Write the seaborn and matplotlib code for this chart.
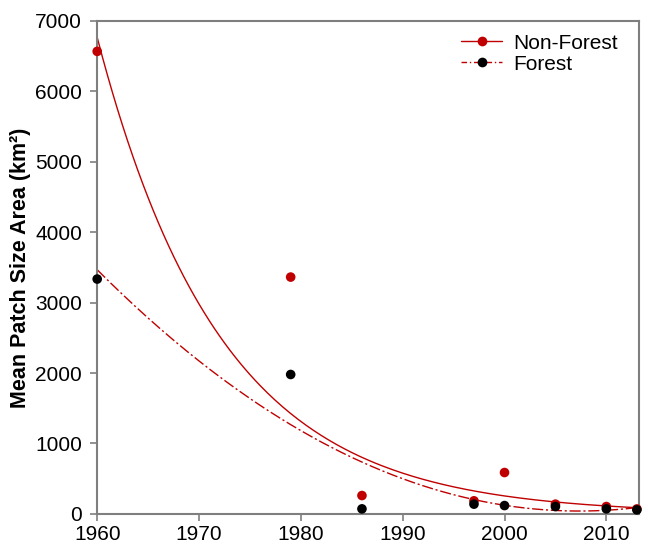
#!/usr/bin/env python3

import numpy as np
import matplotlib
matplotlib.use('Agg')
import matplotlib.pyplot as plt
from matplotlib.lines import Line2D
import pandas as pd
import seaborn as sns

# observed mean patch size (km2)
years = [1960, 1979, 1986, 1997, 2000, 2005, 2010, 2013]
non_forest = [6567, 3362, 260, 185, 587, 138, 104, 70]
forest = [3334, 1979, 71, 138, 118, 104, 71, 57]

# fitted trend lines, coefficients
nf_fit = [6765, 0.082]            # a * exp(-k * (year - 1960))
f_fit = [1.53, -144.8, 3466]      # quadratic in (year - 1960)

red = '#C00000'
grey = '#7f7f7f'

sns.set_style('white')
plt.rcParams['font.family'] = ['Liberation Sans', 'DejaVu Sans']
plt.rcParams['text.color'] = 'black'
plt.rcParams['xtick.color'] = grey
plt.rcParams['ytick.color'] = grey
plt.rcParams['xtick.labelcolor'] = 'black'
plt.rcParams['ytick.labelcolor'] = 'black'
plt.rcParams['xtick.bottom'] = True
plt.rcParams['ytick.left'] = True

fig = plt.figure(figsize=(6.48, 5.49), dpi=100)
ax = fig.add_axes([0.150, 0.064, 0.836, 0.898])

yr = np.arange(1960, 2013.3, 0.25)
t = yr - 1960
fits = pd.DataFrame({'year': yr,
                     'nf': nf_fit[0] * np.exp(-nf_fit[1] * t),
                     'f': np.polyval(f_fit, t)})

sns.lineplot(data=fits, x='year', y='nf', ax=ax, color=red, lw=1.0)
sns.lineplot(data=fits, x='year', y='f', ax=ax, color=red, lw=1.0,
             linestyle=(0, (8, 2, 1.5, 2)))

obs = pd.DataFrame({'year': years, 'nf': non_forest, 'f': forest})
sns.scatterplot(data=obs, x='year', y='nf', ax=ax, color=red, s=48,
                edgecolor='none', zorder=3, clip_on=False)
sns.scatterplot(data=obs, x='year', y='f', ax=ax, color='black', s=48,
                edgecolor='none', zorder=4, clip_on=False)

ax.set_xlim(1960, 2013.2)
ax.set_ylim(0, 7000)
ax.set_xticks([1960, 1970, 1980, 1990, 2000, 2010])
ax.set_yticks(range(0, 7001, 1000))
ax.set_xlabel('')
ax.set_ylabel('Mean Patch Size Area (km²)', fontsize=15.5, fontweight='bold',
              color='black', labelpad=3)
ax.tick_params(axis='both', direction='out', length=5, width=1.2,
               labelsize=15, pad=6)
ax.tick_params(axis='x', pad=3)
for sp in ax.spines.values():
    sp.set_color(grey)
    sp.set_linewidth(1.5)

handles = [Line2D([], [], color=red, lw=1.0, marker='o', markersize=7,
                  markerfacecolor=red, markeredgecolor='none'),
           Line2D([], [], color=red, lw=1.0, linestyle=(0, (4, 2, 1, 2)),
                  marker='o', markersize=7, markerfacecolor='black',
                  markeredgecolor='none')]
ax.legend(handles, ['Non-Forest', 'Forest'], loc='upper right', frameon=False,
          fontsize=15, handlelength=2.0, handletextpad=0.5, labelspacing=0.1,
          bbox_to_anchor=(0.995, 1.012))

fig.savefig('out.png', dpi=100)
